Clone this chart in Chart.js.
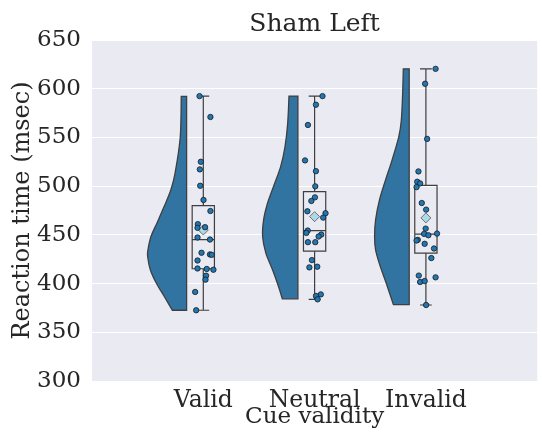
<!DOCTYPE html>
<html lang="en">
<head>
  <meta charset="UTF-8">
  <title>Sham Left</title>
  <script src="https://cdn.jsdelivr.net/npm/chart.js"></script>
  <style>
    body { margin: 0; background: #fff; }
    #wrap { width: 542px; height: 443px; position: relative; }
  </style>
</head>
<body>
  <div id="wrap"><canvas id="rain"></canvas></div>
  <script>
    // categories and y ticks
    const categories = ['Valid', 'Neutral', 'Invalid'];
    const yTicks = [300, 350, 400, 450, 500, 550, 600, 650];

    // raw reaction times (msec) and their horizontal jitter, per condition
    const validRT = [592.4, 571, 525, 517.2, 500.4, 485.8, 474.5, 461, 457.9, 457.2, 447.3, 445.2,
                     431.6, 429.9, 429.5, 423.7, 415.5, 415, 414.2, 408.1, 404, 391.4, 372.6];
    const validJit = [-0.034, 0.064, -0.022, -0.031, -0.028, 0.002, 0.064, -0.049, 0.016, -0.052, -0.052, 0.060,
                      -0.016, 0.060, 0.076, -0.052, -0.052, 0.031, 0.091, 0.025, 0.020, -0.073, -0.064];
    const neutralRT = [592.4, 583.6, 562.8, 526.4, 515.4, 499.8, 488.5, 484.8, 474.2, 472.2, 467.7, 454.4,
                       452, 450.3, 448.3, 442.5, 442.5, 424.1, 416.6, 417.3, 388.9, 387.3, 383.8];
    const neutralJit = [0.071, 0.012, -0.060, -0.086, 0.012, 0.006, 0.003, -0.029, -0.065, 0.098, 0.077, -0.062,
                        -0.074, 0.060, 0.036, -0.060, 0.006, -0.024, -0.047, 0.024, 0.056, 0.012, 0.027];
    const invalidRT = [620.4, 605.1, 548.5, 515.1, 504.5, 502.8, 499, 482.7, 475.9, 456.4, 451, 449.6,
                       451.3, 444.9, 444.2, 440.8, 436, 426.2, 408.2, 406.4, 401.6, 402.6, 378];
    const invalidJit = [0.087, -0.007, 0.011, -0.067, -0.078, -0.052, -0.084, -0.037, 0.002, -0.002, -0.016, 0.022,
                        0.100, -0.073, -0.084, -0.011, 0.073, 0.049, -0.064, 0.087, -0.052, -0.011, 0.002];

    // half-violin ("cloud") outline: value levels and width (x units)
    const validCloudY = [592.1, 550.5, 513.1, 496, 479, 462, 448.3, 434.7, 427.8, 414.2, 400.6, 387, 372.6];
    const validCloudW = [0.048, 0.057, 0.104, 0.142, 0.202, 0.267, 0.320, 0.347, 0.350, 0.326, 0.273, 0.202, 0.128];
    const neutralCloudY = [592.4, 564.2, 540.3, 520, 499.4, 482.4, 465.4, 448.3, 431.3, 414.2, 397.2, 384.3];
    const neutralCloudW = [0.080, 0.092, 0.116, 0.155, 0.220, 0.273, 0.308, 0.317, 0.288, 0.228, 0.175, 0.140];
    const invalidCloudY = [620.4, 594.9, 567.6, 550.5, 526.7, 506.2, 485.8, 465.4, 448.3, 434.7, 417.6, 400.6, 378.4];
    const invalidCloudW = [0.053, 0.059, 0.071, 0.094, 0.154, 0.213, 0.267, 0.302, 0.311, 0.302, 0.260, 0.207, 0.142];

    // box plot statistics per condition
    const boxLow = [372.6, 383.8, 378];
    const boxQ1 = [415.2, 433.3, 431.3];
    const boxMed = [445.2, 454.4, 450.7];
    const boxQ3 = [480, 494.3, 500.8];
    const boxHigh = [592.4, 592.4, 620.4];
    const boxMean = [455, 468.7, 467.4];

    const rts = [validRT, neutralRT, invalidRT];
    const jits = [validJit, neutralJit, invalidJit];
    const clouds = [[validCloudY, validCloudW], [neutralCloudY, neutralCloudW], [invalidCloudY, invalidCloudW]];

    const CLOUD_OFFSET = 0.15;
    const BOX_HALF = 0.1;
    const CAP_HALF = 0.053;
    const LINE = '#3f3f3f';

    // smooth curve through pixel points (catmull-rom)
    function smoothThrough(ctx, pts) {
      for (let i = 0; i < pts.length - 1; i++) {
        const p0 = pts[i - 1] || pts[i], p1 = pts[i], p2 = pts[i + 1], p3 = pts[i + 2] || p2;
        ctx.bezierCurveTo(
          p1.x + (p2.x - p0.x) / 6, p1.y + (p2.y - p0.y) / 6,
          p2.x - (p3.x - p1.x) / 6, p2.y - (p3.y - p1.y) / 6,
          p2.x, p2.y);
      }
    }

    const rainPlugin = {
      id: 'rain',
      beforeDraw(chart) {
        const { ctx, chartArea: a } = chart;
        ctx.save();
        ctx.fillStyle = '#eaeaf2';
        ctx.fillRect(a.left, a.top, a.right - a.left, a.bottom - a.top);
        ctx.restore();
      },
      beforeDatasetsDraw(chart) {
        const { ctx } = chart;
        const xs = chart.scales.x, ys = chart.scales.y;
        ctx.save();
        // clouds
        clouds.forEach(([cy, cw], i) => {
          const edge = xs.getPixelForValue(i - CLOUD_OFFSET);
          const pts = cy.map((v, k) => ({ x: xs.getPixelForValue(i - CLOUD_OFFSET - cw[k]), y: ys.getPixelForValue(v) }));
          ctx.beginPath();
          ctx.moveTo(edge, pts[0].y);
          ctx.lineTo(pts[0].x, pts[0].y);
          smoothThrough(ctx, pts);
          ctx.lineTo(edge, pts[pts.length - 1].y);
          ctx.closePath();
          ctx.fillStyle = '#3274a1';
          ctx.fill();
          ctx.lineWidth = 1.3;
          ctx.strokeStyle = LINE;
          ctx.stroke();
        });
        // boxes
        ctx.lineWidth = 1.2;
        ctx.strokeStyle = LINE;
        categories.forEach((c, i) => {
          const l = xs.getPixelForValue(i - BOX_HALF), r = xs.getPixelForValue(i + BOX_HALF);
          const cx = xs.getPixelForValue(i);
          const cl = xs.getPixelForValue(i - CAP_HALF), cr = xs.getPixelForValue(i + CAP_HALF);
          const q1 = ys.getPixelForValue(boxQ1[i]), q3 = ys.getPixelForValue(boxQ3[i]);
          const md = ys.getPixelForValue(boxMed[i]);
          const lo = ys.getPixelForValue(boxLow[i]), hi = ys.getPixelForValue(boxHigh[i]);
          ctx.beginPath();
          ctx.rect(l, q3, r - l, q1 - q3);
          ctx.moveTo(l, md); ctx.lineTo(r, md);
          ctx.moveTo(cx, q3); ctx.lineTo(cx, hi);
          ctx.moveTo(cl, hi); ctx.lineTo(cr, hi);
          ctx.moveTo(cx, q1); ctx.lineTo(cx, lo);
          ctx.moveTo(cl, lo); ctx.lineTo(cr, lo);
          ctx.stroke();
          // mean diamond
          const my = ys.getPixelForValue(boxMean[i]);
          const d = 5;
          ctx.beginPath();
          ctx.moveTo(cx, my - d); ctx.lineTo(cx + d, my); ctx.lineTo(cx, my + d); ctx.lineTo(cx - d, my);
          ctx.closePath();
          ctx.fillStyle = '#add8e6';
          ctx.fill();
          ctx.lineWidth = 0.8;
          ctx.strokeStyle = '#555';
          ctx.stroke();
          ctx.lineWidth = 1.2;
          ctx.strokeStyle = LINE;
        });
        ctx.restore();
      }
    };

    const datasets = rts.map((vals, i) => ({
      label: categories[i],
      data: vals.map((v, k) => ({ x: i + jits[i][k], y: v })),
      backgroundColor: '#1f77b4',
      borderColor: '#1a1a1a',
      borderWidth: 0.8,
      pointRadius: 2.7
    }));

    const serif = 'DejaVu Serif';
    const textCol = '#262626';

    new Chart(document.getElementById('rain'), {
      type: 'scatter',
      data: { datasets },
      plugins: [rainPlugin],
      options: {
        responsive: true,
        maintainAspectRatio: false,
        animation: false,
        layout: { padding: 0 },
        plugins: {
          legend: { display: false },
          tooltip: { enabled: false },
          title: {
            display: true,
            fullSize: false,
            text: 'Sham Left',
            color: textCol,
            font: { family: serif, size: 25, weight: 'normal' },
            padding: { top: 9, bottom: 1 }
          }
        },
        scales: {
          x: {
            type: 'linear',
            min: -1,
            max: 3,
            afterBuildTicks: s => { s.ticks = categories.map((c, i) => ({ value: i })); },
            afterFit: s => { s.height = 62; },
            grid: { display: false },
            border: { display: false },
            ticks: {
              callback: v => categories[v],
              color: textCol,
              padding: -2,
              font: { family: serif, size: 23.5 }
            },
            title: {
              display: true,
              text: 'Cue validity',
              color: textCol,
              font: { family: serif, size: 23 },
              padding: { top: 0, bottom: 12 }
            }
          },
          y: {
            min: 300,
            max: 650,
            afterBuildTicks: s => { s.ticks = yTicks.map(v => ({ value: v })); },
            afterFit: s => { s.width = 92; },
            grid: { color: '#ffffff', lineWidth: 1, drawTicks: false },
            border: { display: false },
            ticks: {
              color: textCol,
              padding: 11,
              font: { family: serif, size: 23 }
            },
            title: {
              display: true,
              text: 'Reaction time (msec)',
              color: textCol,
              font: { family: serif, size: 24 },
              padding: { top: 8, bottom: 0 }
            }
          }
        }
      }
    });
  </script>
</body>
</html>
